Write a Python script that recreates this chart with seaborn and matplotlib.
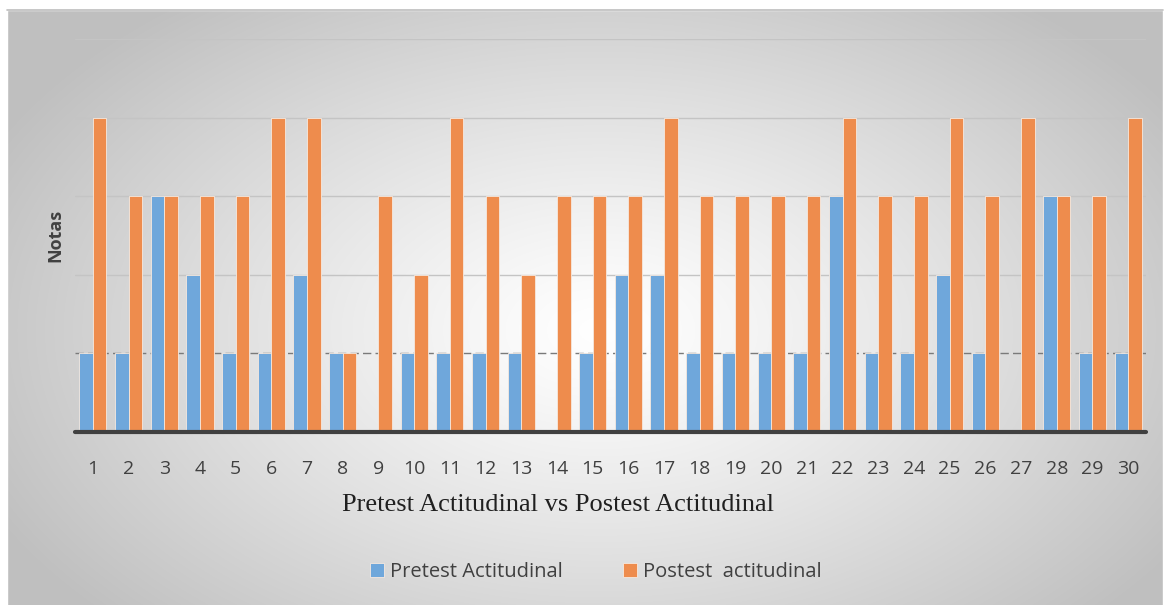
import numpy as np
import pandas as pd
import matplotlib
matplotlib.use("Agg")
import matplotlib.pyplot as plt
import seaborn as sns

students = [str(i) for i in range(1, 31)]
pretest = [1, 1, 3, 2, 1, 1, 2, 1, 0, 1, 1, 1, 1, 0, 1, 2, 2, 1, 1, 1, 1, 3, 1, 1, 2, 1, 0, 3, 1, 1]
postest = [4, 3, 3, 3, 3, 4, 4, 1, 3, 2, 4, 3, 2, 3, 3, 3, 4, 3, 3, 3, 3, 4, 3, 3, 4, 3, 4, 3, 3, 4]
series_names = ["Pretest Actitudinal", "Postest  actitudinal"]
colors = ["#6fa7db", "#ee8c4d"]

df = pd.DataFrame({
    "Alumno": students * 2,
    "Nota": pretest + postest,
    "Serie": [series_names[0]] * 30 + [series_names[1]] * 30,
})

sns.set_theme(style="white")
plt.rcParams["font.family"] = ["Open Sans", "DejaVu Sans"]

W, H = 1165, 605
fig = plt.figure(figsize=(W / 100, H / 100), dpi=100)

# radial gradient backdrop with a thin border
bg = fig.add_axes([0, 0, 1, 1], zorder=-10)
bg.set_axis_off()
yy, xx = np.mgrid[0:H, 0:W]
cx, cy = 600, 330
r = np.sqrt(((xx - cx) / 680.0) ** 2 + ((yy - cy) / 420.0) ** 2)
shade = 1.0 - 0.25 * np.clip(r, 0, 1) ** 1.2
img = np.dstack([shade, shade, shade])
bg.imshow(img, extent=[0, W, H, 0], aspect="auto")
bg.set_xlim(0, W)
bg.set_ylim(H, 0)
# white margin outside the chart frame
bg.fill_between([0, W], 0, 10, color="white", zorder=2)
bg.fill_between([0, 7], 0, H, color="white", zorder=2)
bg.fill_between([1163, W], 0, H, color="white", zorder=2)
bg.plot([7, 1163], [10, 10], color="#bdbdbd", lw=1.2, zorder=3)

ax = fig.add_axes([75 / W, 1 - 432 / H, (1146 - 75) / W, (432 - 39) / H])
ax.patch.set_alpha(0)
sns.barplot(
    data=df, x="Alumno", y="Nota", hue="Serie", palette=colors,
    width=0.76, edgecolor="#f6e9df", linewidth=0.6, saturation=1,
    ax=ax, legend=True,
)
ax.set_ylim(0, 5)
ax.set_xlim(-0.5, 29.5)
for lvl in [2, 3, 4, 5]:
    ax.axhline(lvl, color="#c4c4c4", lw=1.0, zorder=0)
ax.axhline(1, color="#7a7a7a", lw=1.0, ls=(0, (6, 3)), zorder=0)
ax.axhline(0, color="#404040", lw=3.0, zorder=5, clip_on=False)
for s in ax.spines.values():
    s.set_visible(False)
ax.set_yticks([])
ax.tick_params(axis="x", length=0, pad=20, labelsize=14, labelcolor="#404040")
ax.set_ylabel("Notas", fontsize=13, fontweight="bold", color="#404040", labelpad=8)
ax.set_xlabel("Pretest Actitudinal vs Postest Actitudinal", fontsize=19,
              family=["Liberation Serif", "DejaVu Serif"], color="#202020")
ax.xaxis.set_label_coords((558 - 75) / (1146 - 75), -(505 - 432) / (432 - 39))
ax.xaxis.label.set_va("center")

handles, labels = ax.get_legend_handles_labels()
ax.legend(handles, labels, loc="center", bbox_to_anchor=(596 / W, 1 - 572 / H),
          bbox_transform=fig.transFigure, ncol=2, frameon=False, fontsize=14.5,
          handlelength=0.7, handleheight=0.7, handletextpad=0.3, columnspacing=3.0,
          labelcolor="#404040")

fig.savefig("out.png", dpi=100)
